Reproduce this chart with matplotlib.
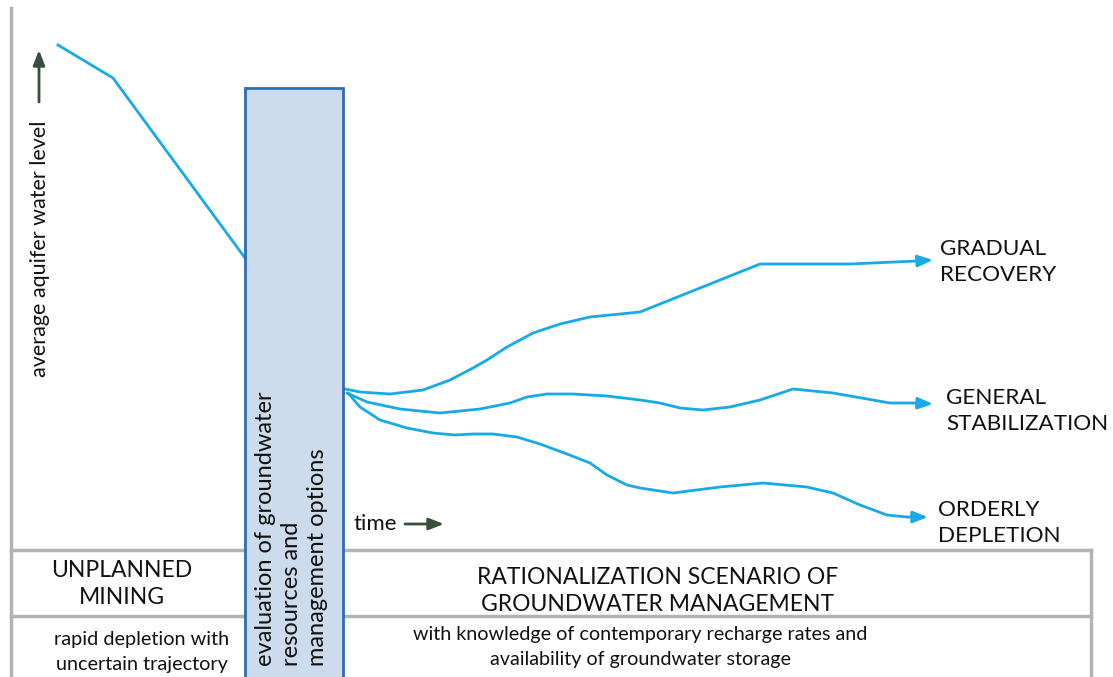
import matplotlib
matplotlib.use('Agg')
import matplotlib.pyplot as plt
from matplotlib.patches import Rectangle

plt.rcParams['font.family'] = ['Lato', 'DejaVu Sans']

# diagram data, in picture pixels (x to the right, y downwards)
unplanned_x = [58, 113, 245]
unplanned_y = [45, 78, 258]

recovery_x = [340, 360, 390, 423, 450, 473, 487, 507, 533, 560, 590, 620, 640, 760, 850, 917, 933]
recovery_y = [388, 392, 394, 390, 380, 368, 360, 347, 333, 324, 317, 314, 312, 264, 264, 261, 260]

stabil_x = [347, 367, 400, 440, 480, 510, 527, 547, 573, 607, 640, 660, 680, 703, 730, 760, 793,
            833, 890, 913, 933]
stabil_y = [393, 402, 409, 413, 409, 403, 397, 394, 394, 396, 400, 403, 408, 410, 407, 400, 389,
            393, 403, 403, 404]

depletion_x = [348, 360, 380, 407, 433, 455, 473, 493, 517, 540, 567, 590, 607, 627, 640, 673, 720,
               763, 807, 833, 860, 887, 907, 928]
depletion_y = [393, 407, 420, 428, 433, 435, 434, 434, 437, 444, 454, 463, 475, 485, 488, 493, 487,
               483, 487, 493, 505, 515, 517, 517]

outcome_labels = ['GRADUAL\nRECOVERY', 'GENERAL\nSTABILIZATION', 'ORDERLY\nDEPLETION']
outcome_pos = [(940, 262), (946, 411), (938, 523)]

blue = '#16aae6'
grey = '#b3b3b3'
arrow_green = '#3a4e3e'
ink = '#111111'

fig = plt.figure(figsize=(11.13, 6.77), dpi=100)
ax = fig.add_axes([0, 0, 1, 1])
ax.set_xlim(0, 1113)
ax.set_ylim(677, 0)
ax.axis('off')

# frame lines
ax.plot([11, 11], [8, 677], color=grey, lw=2.5)
ax.plot([11, 245], [550, 550], color=grey, lw=2.5)
ax.plot([11, 245], [616, 616], color=grey, lw=2.5)
ax.plot([345, 1091], [550, 550], color=grey, lw=2.5)
ax.plot([345, 1091], [616, 616], color=grey, lw=2.5)
ax.plot([1091, 1091], [550, 677], color=grey, lw=2.5)

# evaluation box
ax.add_patch(Rectangle((245, 88), 98, 600, facecolor='#cddcec', edgecolor='#2e6db4', lw=2, zorder=3))
ax.text(255, 666, 'evaluation of groundwater\nresources and\nmanagement options', rotation=90,
        ha='left', va='bottom', fontsize=17, linespacing=1.28, zorder=4, color=ink)

arrow_kw = dict(arrowstyle='-|>,head_length=0.9,head_width=0.35', lw=2, shrinkA=0, shrinkB=0)

# curves
ax.plot(unplanned_x, unplanned_y, color=blue, lw=2)
for xs, ys in [(recovery_x, recovery_y), (stabil_x, stabil_y), (depletion_x, depletion_y)]:
    ax.plot(xs[:-1], ys[:-1], color=blue, lw=2, solid_joinstyle='round', solid_capstyle='round')
    ax.annotate('', xy=(xs[-1], ys[-1]), xytext=(xs[-2], ys[-2]),
                arrowprops=dict(color=blue, **arrow_kw))

for lab, (x, y) in zip(outcome_labels, outcome_pos):
    ax.text(x, y, lab, ha='left', va='center', fontsize=16.2, linespacing=1.4, color=ink)

# axis captions
ax.text(40, 377, 'average aquifer water level', rotation=90, ha='center', va='bottom',
        fontsize=15.5, color=ink)
ax.annotate('', xy=(39, 50), xytext=(39, 102), arrowprops=dict(color=arrow_green, **arrow_kw))
ax.text(353, 524, 'time', ha='left', va='center', fontsize=16, color=ink)
ax.annotate('', xy=(444, 524), xytext=(405, 524), arrowprops=dict(color=arrow_green, **arrow_kw))

# bottom band texts
ax.text(122, 584, 'UNPLANNED\nMINING', ha='center', va='center', fontsize=16.5,
        linespacing=1.3, color=ink)
ax.text(142, 652, 'rapid depletion with\nuncertain trajectory', ha='center', va='center',
        fontsize=14.3, linespacing=1.55, color=ink)
ax.text(658, 591, 'RATIONALIZATION SCENARIO OF\nGROUNDWATER MANAGEMENT', ha='center', va='center',
        fontsize=16.5, linespacing=1.3, color=ink)
ax.text(640, 647, 'with knowledge of contemporary recharge rates and\navailability of groundwater storage',
        ha='center', va='center', fontsize=14.2, linespacing=1.55, color=ink)

fig.savefig('out.png', dpi=100)
